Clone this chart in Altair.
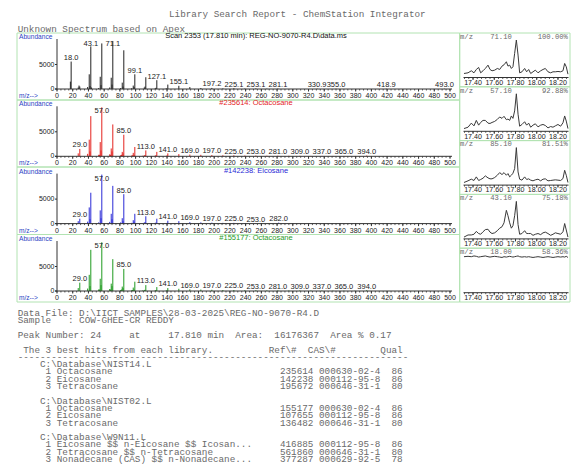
import altair as alt
import pandas as pd

# ---------------- data ----------------
report_title = "Library Search Report - ChemStation Integrator"
report_subtitle = "Unknown Spectrum based on Apex"

panel_headers = [
    "Scan 2353 (17.810 min): REG-NO-9070-R4.D\\data.ms",
    "#235614: Octacosane",
    "#142238: Eicosane",
    "#155177: Octacosane",
]

# unknown spectrum (apex)
unk_mz = [17, 18, 27, 28, 29, 39, 41, 42, 43, 44, 53, 55, 56, 57, 67, 69, 70, 71, 81, 83,
          84, 85, 95, 97, 98, 99, 111, 112, 113, 125, 126, 127, 139, 141, 155, 169, 183, 197, 211, 225,
          239, 253, 267, 281, 331, 355, 419, 493]
unk_ab = [1500, 5600, 300, 700, 500, 400, 3000, 600, 8700, 300, 200, 2500, 800, 9300, 300, 2300, 900, 9800, 200, 1300,
          500, 7900, 150, 700, 400, 3000, 300, 500, 2400, 150, 250, 1800, 150, 900, 650, 400, 200, 220, 120, 150,
          80, 110, 60, 90, 60, 60, 50, 50]
unk_labels = ["18.0", "43.1", "71.1", "99.1", "127.1", "155.1", "197.2", "225.1", "253.1", "281.1",
              "330.9", "355.0", "418.9", "493.0"]

# library hit #235614 Octacosane
oct1_mz = [27, 29, 39, 41, 42, 43, 53, 54, 55, 56, 57, 67, 68, 69, 70, 71, 81, 82, 83, 84,
           85, 95, 96, 97, 98, 99, 109, 111, 112, 113, 125, 126, 127, 139, 140, 141, 155, 169, 183, 197,
           211, 225, 239, 253, 267, 281, 295, 309, 323, 337, 351, 365, 379, 394]
oct1_ab = [600, 1500, 500, 3400, 1000, 8200, 300, 300, 2900, 1200, 9999, 400, 300, 1600, 1000, 6500, 200, 300, 900, 600,
           4400, 150, 200, 700, 300, 1900, 100, 200, 250, 1200, 150, 200, 900, 100, 150, 600, 450, 350, 300, 250,
           200, 200, 150, 150, 120, 120, 100, 100, 80, 80, 70, 70, 60, 150]
oct_labels = ["29.0", "57.0", "85.0", "113.0", "141.0", "169.0", "197.0", "225.0", "253.0", "281.0",
              "309.0", "337.0", "365.0", "394.0"]

# library hit #142238 Eicosane
eic_mz = [27, 29, 39, 41, 42, 43, 53, 55, 56, 57, 67, 69, 70, 71, 81, 83, 84, 85, 95, 97,
          98, 99, 111, 112, 113, 125, 126, 127, 139, 140, 141, 155, 169, 183, 197, 211, 225, 239, 253, 282]
eic_ab = [500, 1000, 400, 3300, 900, 6300, 250, 2700, 1100, 9999, 350, 2000, 900, 7700, 250, 1100, 500, 6000, 150, 700,
          400, 2000, 200, 300, 1500, 150, 200, 1000, 100, 150, 600, 500, 300, 250, 200, 150, 150, 100, 80, 200]
eic_labels = ["29.0", "57.0", "85.0", "113.0", "141.0", "169.0", "197.0", "225.0", "253.0", "282.0"]

# library hit #155177 Octacosane
oct2_mz = [27, 29, 39, 41, 42, 43, 53, 54, 55, 56, 57, 67, 68, 69, 70, 71, 81, 82, 83, 84,
           85, 95, 96, 97, 98, 99, 109, 111, 112, 113, 125, 126, 127, 139, 140, 141, 155, 169, 183, 197,
           211, 225, 239, 253, 267, 281, 295, 309, 323, 337, 351, 365, 379, 394]
oct2_ab = [600, 1700, 500, 3300, 1000, 8400, 300, 300, 2500, 1200, 9950, 400, 300, 1500, 1000, 6500, 200, 300, 900, 600,
           4500, 150, 200, 700, 300, 1900, 100, 200, 250, 1200, 150, 200, 800, 100, 150, 600, 450, 350, 300, 250,
           200, 200, 150, 150, 120, 120, 100, 100, 80, 80, 70, 70, 60, 150]

# extracted-ion chromatograms (relative %)
chrom_ions = ["71.10", "57.10", "85.10", "43.10", "18.00"]
chrom_pct = ["100.00%", "92.88%", "81.51%", "75.18%", "58.36%"]
chrom_time = [17.315, 17.353, 17.384, 17.409, 17.431, 17.453, 17.472, 17.494, 17.516, 17.541,
              17.560, 17.579, 17.604, 17.629, 17.651, 17.673, 17.692, 17.714, 17.729, 17.745,
              17.761, 17.776, 17.792, 17.808, 17.824, 17.839, 17.861, 17.886, 17.905, 17.924,
              17.943, 17.965, 17.987, 18.012, 18.037, 18.059, 18.081, 18.106, 18.131, 18.153,
              18.175, 18.200, 18.225, 18.247, 18.263, 18.278, 18.294]
eic_71 = [10.7, 12.5, 17.9, 12.5, 21.4, 26.8, 12.5, 17.9, 24.1, 33.0, 21.4, 17.9, 19.6, 24.1, 21.4, 30.4,
          33.9, 42.0, 30.4, 33.0, 24.1, 28.6, 64.3, 100, 59.8, 12.5, 15.2, 24.1, 15.2, 21.4, 10.7, 15.2,
          19.6, 12.5, 17.9, 21.4, 24.1, 15.2, 12.5, 15.2, 15.2, 16.1, 15.2, 17.9, 37.5, 28.6, 8.9]
eic_57 = [7.3, 10.9, 21.8, 14.5, 29.1, 16.4, 23.6, 29.1, 29.1, 21.8, 20.9, 23.6, 26.4, 31.8, 38.2, 34.5,
          40.0, 30.9, 32.7, 29.1, 40.9, 34.5, 54.5, 100, 45.5, 13.6, 18.2, 25.5, 16.4, 21.8, 10.9, 16.4,
          20.0, 11.8, 16.4, 18.2, 15.5, 9.1, 12.7, 10.9, 14.5, 18.2, 13.6, 22.7, 40.9, 27.3, 7.3]
eic_85 = [7.0, 11.4, 15.8, 12.3, 21.9, 12.3, 14.9, 18.4, 24.6, 19.3, 16.7, 16.7, 20.2, 26.3, 33.3, 28.1,
          33.3, 26.3, 30.7, 21.9, 26.3, 31.6, 43.9, 100, 35.1, 15.8, 13.2, 21.9, 14.9, 16.7, 13.2, 11.4,
          14.0, 15.8, 11.4, 15.8, 16.7, 11.4, 12.3, 13.2, 14.0, 13.2, 12.3, 17.5, 39.5, 26.3, 7.0]
eic_43 = [4.8, 10.5, 10.5, 12.4, 20.0, 14.3, 12.4, 19.0, 24.8, 25.7, 18.1, 14.3, 16.2, 21.9, 28.6, 32.4,
          42.9, 76.2, 61.9, 42.9, 28.6, 35.2, 61.9, 100, 38.1, 12.4, 14.3, 21.9, 14.3, 14.3, 14.3, 9.5,
          12.4, 14.3, 11.4, 16.2, 18.1, 14.3, 9.5, 12.4, 16.2, 14.3, 12.4, 19.0, 41.0, 23.8, 4.8]
eic_18 = [96, 97, 96, 98, 97, 95, 96, 97, 98, 96, 95, 96, 97, 96, 95, 94, 96, 95, 96, 97, 96, 95, 96, 97,
          98, 96, 95, 96, 95, 96, 95, 94, 95, 96, 95, 94, 95, 96, 95, 94, 95, 96, 95, 96, 95, 97, 94]
chrom_series = [eic_71, eic_57, eic_85, eic_43, eic_18]

# report text
data_file = "D:\\IICT SAMPLES\\28-03-2025\\REG-NO-9070-R4.D"
sample_name = "COW-GHEE-CR REDDY"
peak_number = "24"
peak_rt = "17.810"
peak_area = "16176367"
peak_area_pct = "0.17"
lib_names = ["C:\\Database\\NIST14.L", "C:\\Database\\NIST02.L", "C:\\Database\\W9N11.L"]
hit_names = [["Octacosane", "Eicosane", "Tetracosane"],
             ["Octacosane", "Eicosane", "Tetracosane"],
             ["Eicosane $$ n-Eicosane $$ Icosan...", "Tetracosane $$ n-Tetracosane",
              "Nonadecane (CAS) $$ n-Nonadecane..."]]
hit_refs = [["235614", "142238", "195672"], ["155177", "107655", "136482"], ["416885", "561860", "377287"]]
hit_cas = [["000630-02-4", "000112-95-8", "000646-31-1"],
           ["000630-02-4", "000112-95-8", "000646-31-1"],
           ["000112-95-8", "000646-31-1", "000629-92-5"]]
hit_qual = [["86", "86", "80"], ["86", "86", "80"], ["86", "80", "78"]]

# ---------------- styling / layout ----------------
SANS = "Liberation Sans"
MONO = "Liberation Mono"
BOX = "#b2e3b2"
GRAY = "#6a6a6a"
AX = "#333333"
BLUE = "#2b3fc4"
spec_colors = ["#222222", "#e4231f", "#2a2ad6", "#1f9a1f"]
head_colors = ["#111111", "#e4231f", "#2a2ad6", "#1f9a1f"]
OFF = 8
SPEC_BASE = [89, 156.3, 223.6, 291]
SPEC_BOX = [(33, 100), (100, 167), (167, 234.5), (234.5, 302)]
CH_TOP = [33, 86.8, 140.6, 194.4, 248.2]
CH_H = 53.8


def P(v):
    return v - OFF


def nb(s):
    # keep runs of blanks (and leading blanks) visible in the rendered text
    out = s.replace(" ", "\u00a0")
    if s.startswith(" "):
        out = "\u200b" + out
    return out


def row(*parts):
    s = ""
    for col, txt in parts:
        s = s.ljust(col) + txt
    return s


one = alt.Data(values=[{"k": 0}])


def fixed_text(txt, x, y, size, color, font=SANS, align="left"):
    return alt.Chart(one).mark_text(text=nb(txt), align=align, baseline="middle", font=font,
                                    fontSize=size, color=color).encode(
        x=alt.value(P(x)), y=alt.value(P(y)))


def frame(x1, y1, x2, y2):
    return alt.Chart(one).mark_rect(fillOpacity=0, stroke=BOX, strokeWidth=1).encode(
        x=alt.value(P(x1)), x2=alt.value(P(x2)), y=alt.value(P(y1)), y2=alt.value(P(y2)))


def hline(x1, x2, y, color=AX):
    return alt.Chart(one).mark_rule(color=color, strokeWidth=1).encode(
        x=alt.value(P(x1)), x2=alt.value(P(x2)), y=alt.value(P(y)))


def vline(x, y1, y2, color=AX):
    return alt.Chart(one).mark_rule(color=color, strokeWidth=1).encode(
        x=alt.value(P(x)), y=alt.value(P(y1)), y2=alt.value(P(y2)))


layers = []

# title lines
layers.append(fixed_text(report_title, 169, 14, 9.3, GRAY, MONO))
layers.append(fixed_text(report_subtitle, 17.7, 29.3, 9.3, GRAY, MONO))

# ---------------- spectrum panels ----------------
spectra = [(unk_mz, unk_ab, unk_labels), (oct1_mz, oct1_ab, oct_labels),
           (eic_mz, eic_ab, eic_labels), (oct2_mz, oct2_ab, oct_labels)]

for i, (mz, ab, labs) in enumerate(spectra):
    base = SPEC_BASE[i]
    top, bot = SPEC_BOX[i]
    xs = alt.Scale(domain=[0, 500], range=[P(57), P(450)])
    ys = alt.Scale(domain=[0, 10000], range=[P(base), P(base - 49)])
    df = pd.DataFrame({"mz": mz, "ab": ab})
    lookup = dict(zip(mz, ab))
    lab_df = pd.DataFrame({"mz": [float(s) for s in labs], "txt": labs,
                           "ab": [lookup[round(float(s))] for s in labs]})

    layers.append(frame(17, top, 459.7, bot))
    layers.append(alt.Chart(df).mark_rule(color=spec_colors[i], strokeWidth=1).encode(
        x=alt.X("mz:Q", scale=xs, axis=None),
        y=alt.Y("ab:Q", scale=ys, axis=None),
        y2=alt.datum(0)))
    layers.append(alt.Chart(lab_df).transform_calculate(
        ly="min(datum.ab + 750, 9200)").mark_text(
        baseline="middle", font=SANS, fontSize=7.5, color="#222222").encode(
        x=alt.X("mz:Q", scale=xs, axis=None),
        y=alt.Y("ly:Q", scale=ys, axis=None),
        text="txt:N"))
    # x axis
    layers.append(hline(55, 452, base))
    layers.append(alt.Chart(alt.sequence(0, 501, 20, as_="t")).mark_rule(color=AX, strokeWidth=1).encode(
        x=alt.X("t:Q", scale=xs, axis=None), y=alt.value(P(base)), y2=alt.value(P(base + 2.5))))
    layers.append(alt.Chart(alt.sequence(0, 501, 5, as_="t")).mark_rule(color=AX, strokeWidth=0.8).encode(
        x=alt.X("t:Q", scale=xs, axis=None), y=alt.value(P(base)), y2=alt.value(P(base + 1.5))))
    layers.append(alt.Chart(alt.sequence(0, 501, 20, as_="t")).mark_text(
        baseline="middle", font=SANS, fontSize=7, color="#222222").encode(
        x=alt.X("t:Q", scale=xs, axis=None), y=alt.value(P(base + 7)),
        text=alt.Text("t:Q", format="d")))
    # y axis
    layers.append(vline(57, base, base - 50))
    ytick_df = pd.DataFrame({"v": [0, 5000]})
    layers.append(alt.Chart(ytick_df).mark_rule(color=AX, strokeWidth=1).encode(
        y=alt.Y("v:Q", scale=ys, axis=None), x=alt.value(P(55)), x2=alt.value(P(57))))
    layers.append(alt.Chart(ytick_df).mark_text(
        align="right", baseline="middle", font=SANS, fontSize=7, color="#222222").encode(
        y=alt.Y("v:Q", scale=ys, axis=None), x=alt.value(P(54.5)),
        text=alt.Text("v:Q", format="d")))
    layers.append(fixed_text("Abundance", 19, base - 52, 6.6, BLUE))
    layers.append(fixed_text("m/z-->", 19, base + 7, 6.6, BLUE))
    layers.append(fixed_text(panel_headers[i], 256, base - 53, 7.5, head_colors[i], SANS, "center"))

# ---------------- chromatogram panels ----------------
for j, vals in enumerate(chrom_series):
    top = CH_TOP[j]
    axis_y = top + 44.5
    xs = alt.Scale(domain=[17.3, 18.3], range=[P(462.4), P(568.6)])
    ys = alt.Scale(domain=[0, 100], range=[P(axis_y), P(top + 7)])
    cdf = pd.DataFrame({"t": chrom_time, "v": vals})
    layers.append(frame(459.7, top, 570, top + CH_H))
    layers.append(alt.Chart(cdf).mark_line(color="#3a3a3a", strokeWidth=1).encode(
        x=alt.X("t:Q", scale=xs, axis=None), y=alt.Y("v:Q", scale=ys, axis=None)))
    layers.append(hline(463.5, 568.5, axis_y))
    layers.append(alt.Chart(alt.sequence(17.4, 18.21, 0.2, as_="t")).mark_rule(color=AX, strokeWidth=1).encode(
        x=alt.X("t:Q", scale=xs, axis=None), y=alt.value(P(axis_y)), y2=alt.value(P(axis_y + 2.5))))
    layers.append(alt.Chart(alt.sequence(17.32, 18.29, 0.04, as_="t")).mark_rule(color=AX, strokeWidth=0.8).encode(
        x=alt.X("t:Q", scale=xs, axis=None), y=alt.value(P(axis_y)), y2=alt.value(P(axis_y + 1.5))))
    layers.append(alt.Chart(alt.sequence(17.4, 18.21, 0.2, as_="t")).mark_text(
        baseline="middle", font=SANS, fontSize=7.1, color="#222222").encode(
        x=alt.X("t:Q", scale=xs, axis=None), y=alt.value(P(axis_y + 5.2)),
        text=alt.Text("t:Q", format=".2f")))
    head = row((0, "m/z"), (7, chrom_ions[j]))
    head = head.ljust(25 - len(chrom_pct[j])) + chrom_pct[j]
    layers.append(fixed_text(head, 460, top + 3.8, 7.2, GRAY, MONO))

# ---------------- report text ----------------
body = [
    row((0, "Data File:"), (11, data_file)),
    row((0, "Sample"), (9, ":"), (11, sample_name)),
    "",
    row((0, "Peak Number:"), (13, peak_number), (20, "at"), (27, peak_rt), (34, "min"),
        (39, "Area:"), (46, peak_area), (56, "Area % " + peak_area_pct)),
    "",
    row((1, "The 3 best hits from each library."), (45, "Ref\\#"), (52, "CAS\\#"), (65, "Qual")),
    "-" * 70,
]
for k, lib in enumerate(lib_names):
    if k > 0:
        body.append("")
    body.append(row((4, lib)))
    for n in range(3):
        body.append(row((5, str(n + 1)), (7, hit_names[k][n]), (47, hit_refs[k][n]),
                        (54, hit_cas[k][n]), (67, hit_qual[k][n])))

body_df = pd.DataFrame({"i": list(range(len(body))), "s": [nb(s) for s in body]})
layers.append(alt.Chart(body_df).mark_text(
    align="left", baseline="middle", font=MONO, fontSize=9.3, color=GRAY).encode(
    x=alt.value(P(17.7)),
    y=alt.Y("i:Q", scale=alt.Scale(domain=[0, len(body) - 1], range=[P(313), P(459)]), axis=None),
    text="s:N"))

chart = alt.layer(*layers).resolve_scale(x="independent", y="independent").properties(
    width=563, height=456, autosize=alt.AutoSizeParams(type="none"), padding=0
).configure_view(strokeWidth=0)

chart.save("out.html", embed_options={"renderer": "svg", "actions": False})
